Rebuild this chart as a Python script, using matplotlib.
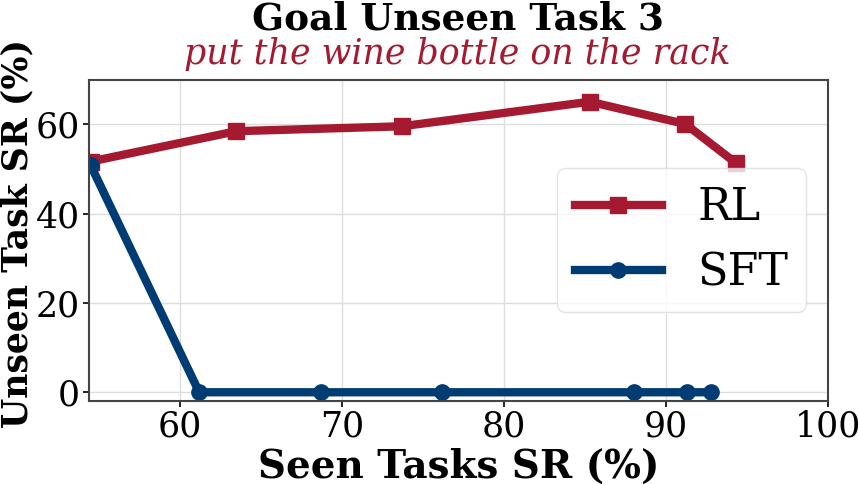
import matplotlib
matplotlib.use("Agg")
import matplotlib.pyplot as plt

# data
rl_x = [54.5, 63.5, 73.7, 85.3, 91.2, 94.3]
rl_y = [51.7, 58.5, 59.6, 65.1, 60.1, 51.4]
sft_x = [54.5, 61.2, 68.7, 76.2, 88.0, 91.3, 92.8]
sft_y = [50.9, 0.0, 0.0, 0.0, 0.0, 0.0, 0.0]

title = "Goal Unseen Task 3"
subtitle = "put the wine bottle on the rack"

RED = "#A51A30"
BLUE = "#003C74"

plt.rcParams["font.family"] = "DejaVu Serif"

fig = plt.figure(figsize=(8.59, 4.84), dpi=100)
ax = fig.add_axes([0.1036, 0.172, 0.8604, 0.663])

ax.plot(rl_x, rl_y, color=RED, lw=6, marker="s", ms=11, label="RL")
ax.plot(sft_x, sft_y, color=BLUE, lw=6, marker="o", ms=11, label="SFT")

ax.set_xlim(54.4, 100)
ax.set_ylim(-1.9, 70)
ax.set_xticks([60, 70, 80, 90, 100])
ax.set_yticks([0, 20, 40, 60])
ax.tick_params(labelsize=25, length=4, width=1.2, pad=2.5)
ax.grid(True, color="#dddddd", lw=1)
ax.set_axisbelow(True)
for s in ax.spines.values():
    s.set_color("#444444")
    s.set_linewidth(1.5)

ax.set_xlabel("Seen Tasks SR (%)", fontsize=28, fontweight="bold", labelpad=3)
ax.set_ylabel("Unseen Task SR (%)", fontsize=25, fontweight="bold")
ax.yaxis.set_label_coords(-0.074, 0.52)

leg = ax.legend(loc="center right", bbox_to_anchor=(1.0, 0.5), fontsize=32,
                handlelength=1.95, framealpha=0.8, edgecolor="#dddddd")

fig.text(0.533, 0.961, title, ha="center", va="center", fontsize=27, fontweight="bold")
fig.text(0.532, 0.888, subtitle, ha="center", va="center", fontsize=25,
         style="italic", color=RED)

fig.savefig("out.png", dpi=100)
